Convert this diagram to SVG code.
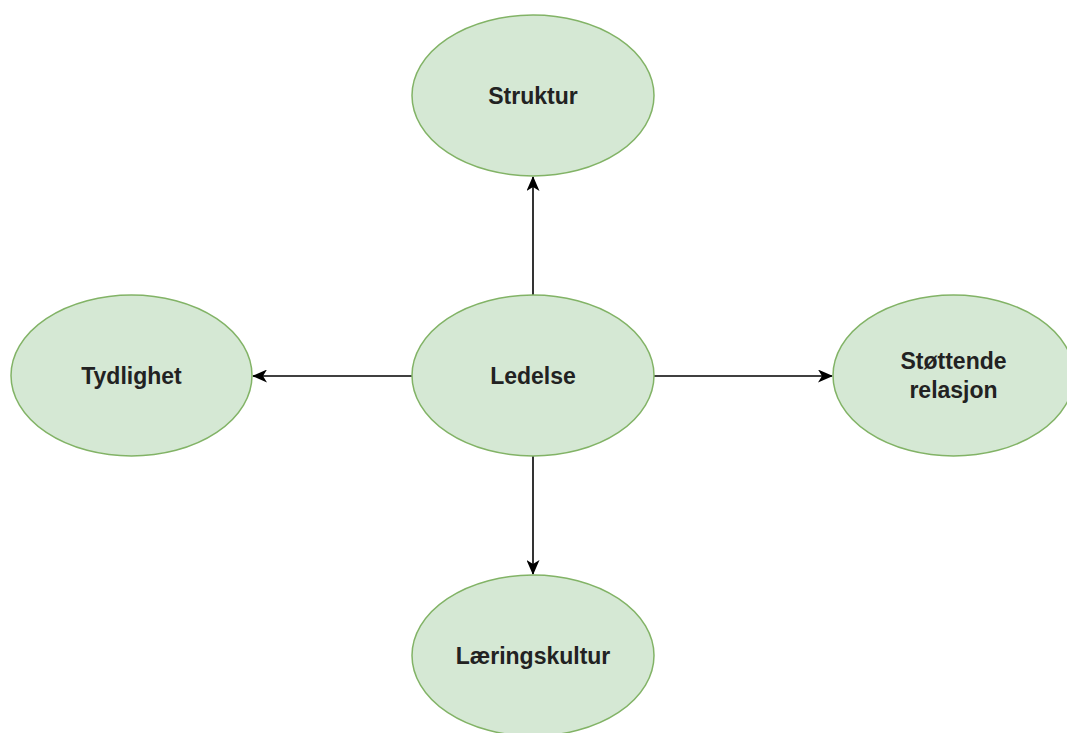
<svg xmlns="http://www.w3.org/2000/svg" width="1067" height="733" viewBox="0 0 1067 733">
<style>
.node{fill:#d5e8d4;stroke:#82b366;stroke-width:1.5}
.lbl{font-family:"Liberation Sans",Arial,sans-serif;font-weight:bold;font-size:23px;fill:#222;text-anchor:middle}
.edge{stroke:#000;stroke-width:1.6;fill:none}
</style>
<defs>
<marker id="arr" viewBox="0 0 15 13" refX="14" refY="6.5" markerWidth="15" markerHeight="13" markerUnits="userSpaceOnUse" orient="auto">
<path d="M0,0 L15,6.5 L0,13 L4,6.5 Z" fill="#000"/>
</marker>
</defs>
<rect width="1067" height="733" fill="#fff"/>
<g id="edges">
<line class="edge" x1="533" y1="295" x2="533" y2="177" marker-end="url(#arr)"/>
<line class="edge" x1="412" y1="376" x2="253" y2="376" marker-end="url(#arr)"/>
<line class="edge" x1="654" y1="376" x2="832" y2="376" marker-end="url(#arr)"/>
<line class="edge" x1="533" y1="456" x2="533" y2="574" marker-end="url(#arr)"/>
</g>
<g id="struktur">
<ellipse class="node" cx="533" cy="95.5" rx="121" ry="80.5"/>
<text class="lbl" x="533" y="103.5">Struktur</text>
</g>
<g id="ledelse">
<ellipse class="node" cx="533" cy="375.5" rx="121" ry="80.5"/>
<text class="lbl" x="533" y="383.5">Ledelse</text>
</g>
<g id="tydlighet">
<ellipse class="node" cx="131.5" cy="375.5" rx="120.5" ry="80.5"/>
<text class="lbl" x="131.5" y="383.5">Tydlighet</text>
</g>
<g id="stottende">
<ellipse class="node" cx="953.5" cy="375.5" rx="120.5" ry="80.5"/>
<text class="lbl" x="953.5" y="369">Støttende</text>
<text class="lbl" x="953.5" y="398">relasjon</text>
</g>
<g id="laeringskultur">
<ellipse class="node" cx="533" cy="655.5" rx="121" ry="80.5"/>
<text class="lbl" x="533" y="663.5">Læringskultur</text>
</g>
</svg>
